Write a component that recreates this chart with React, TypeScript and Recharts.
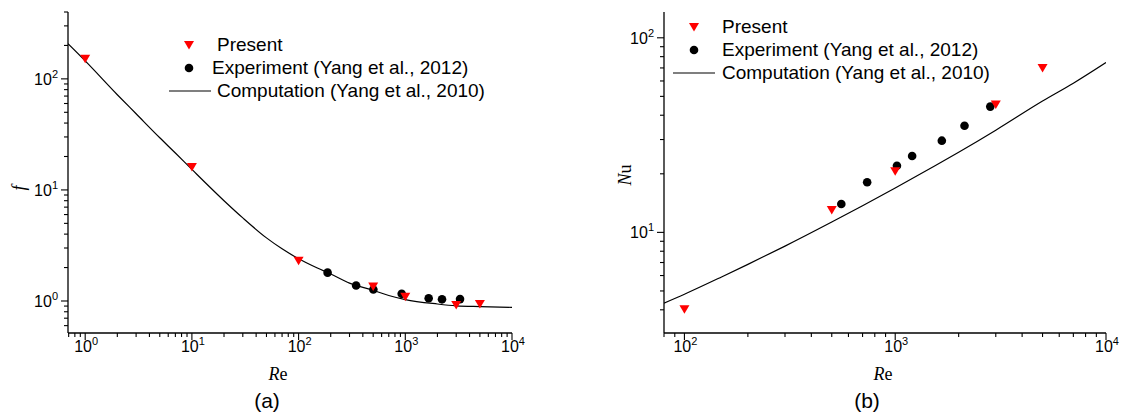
import { ScatterChart, Scatter, XAxis, YAxis, Legend } from 'recharts';

// (a) friction factor f vs Re
const presentA = [
  { re: 1, v: 152 },
  { re: 10, v: 16.1 },
  { re: 100, v: 2.3 },
  { re: 500, v: 1.35 },
  { re: 1000, v: 1.09 },
  { re: 3000, v: 0.92 },
  { re: 5000, v: 0.94 },
];
const experimentA = [
  { re: 187, v: 1.8 },
  { re: 346, v: 1.38 },
  { re: 502, v: 1.27 },
  { re: 925, v: 1.16 },
  { re: 1656, v: 1.06 },
  { re: 2208, v: 1.035 },
  { re: 3258, v: 1.04 },
];
const computationA = [
  { re: 0.69, v: 207 },
  { re: 1, v: 145 },
  { re: 2, v: 72 },
  { re: 3, v: 48.5 },
  { re: 5, v: 29.5 },
  { re: 7, v: 21.5 },
  { re: 10, v: 15.3 },
  { re: 20, v: 8.0 },
  { re: 30, v: 5.6 },
  { re: 50, v: 3.7 },
  { re: 70, v: 2.95 },
  { re: 100, v: 2.4 },
  { re: 150, v: 1.98 },
  { re: 200, v: 1.75 },
  { re: 300, v: 1.45 },
  { re: 500, v: 1.25 },
  { re: 700, v: 1.12 },
  { re: 1000, v: 1.03 },
  { re: 2000, v: 0.94 },
  { re: 3000, v: 0.905 },
  { re: 5000, v: 0.89 },
  { re: 10000, v: 0.877 },
];

// (b) Nusselt number vs Re
const presentB = [
  { re: 100, v: 4.03 },
  { re: 500, v: 13.05 },
  { re: 1000, v: 20.6 },
  { re: 3000, v: 45.4 },
  { re: 5000, v: 70 },
];
const experimentB = [
  { re: 555, v: 14.0 },
  { re: 736, v: 18.1 },
  { re: 1019, v: 22.0 },
  { re: 1203, v: 24.7 },
  { re: 1664, v: 29.6 },
  { re: 2132, v: 35.3 },
  { re: 2825, v: 44.3 },
];
const computationB = [
  { re: 80, v: 4.33 },
  { re: 100, v: 4.81 },
  { re: 150, v: 5.9 },
  { re: 200, v: 6.85 },
  { re: 300, v: 8.5 },
  { re: 500, v: 11.3 },
  { re: 700, v: 13.7 },
  { re: 1000, v: 16.9 },
  { re: 1500, v: 21.6 },
  { re: 2000, v: 25.8 },
  { re: 3000, v: 33.5 },
  { re: 5000, v: 47.3 },
  { re: 7000, v: 58.4 },
  { re: 10000, v: 74.6 },
];

// axes
const domainXA = [0.69, 10000];
const domainYA = [0.515, 400];
const domainXB = [80, 10000];
const domainYB = [3.04, 135.7];

const majorXA = [1, 10, 100, 1000, 10000];
const majorYA = [1, 10, 100];
const majorXB = [100, 1000, 10000];
const majorYB = [10, 100];

const legendLabels = ['Present', 'Experiment (Yang et al., 2012)', 'Computation (Yang et al., 2010)'];

const decades = [1, 2, 3, 4, 5, 6, 7, 8, 9];
function logTicks(lo: number, hi: number) {
  const out: number[] = [];
  for (let e = -1; e <= 4; e++) {
    for (const d of decades) {
      const t = +(d * Math.pow(10, e)).toPrecision(3);
      if (t >= lo && t <= hi) out.push(t);
    }
  }
  return out;
}

const SANS = '"Liberation Sans", Arial, sans-serif';
const SERIF = '"Liberation Serif", "Times New Roman", serif';

function LogTick(props: any) {
  const { x, y, payload, side, majors } = props;
  const v = payload.value;
  const major = majors.includes(v);
  const len = major ? 7 : 4;
  const exp = Math.round(Math.log10(v));
  let line;
  let label = null;
  if (side === 'bottom') {
    line = <line x1={x} y1={y} x2={x} y2={y + len} stroke="#000" strokeWidth={1.1} />;
    if (major)
      label = (
        <text x={x + 1} y={y + 19} textAnchor="middle" fontFamily={SANS} fontSize={16} fill="#000">
          10<tspan dy={-7} fontSize={11}>{exp}</tspan>
        </text>
      );
  } else if (side === 'left') {
    line = <line x1={x} y1={y} x2={x - len} y2={y} stroke="#000" strokeWidth={1.1} />;
    if (major)
      label = (
        <text x={x - 10} y={y + 6} textAnchor="end" fontFamily={SANS} fontSize={16} fill="#000">
          10<tspan dy={-7} fontSize={11}>{exp}</tspan>
        </text>
      );
  } else if (side === 'top') {
    line = <line x1={x} y1={y} x2={x} y2={y + len - 1} stroke="#000" strokeWidth={1.1} />;
  } else {
    line = <line x1={x} y1={y} x2={x - len + 1} y2={y} stroke="#000" strokeWidth={1.1} />;
  }
  return (
    <g>
      {line}
      {label}
    </g>
  );
}

const Triangle = (props: any) => {
  const { cx, cy } = props;
  return <path d={`M${cx - 5},${cy - 4} L${cx + 5},${cy - 4} L${cx},${cy + 4.5} Z`} fill="#ff0000" />;
};
const Dot = (props: any) => <circle cx={props.cx} cy={props.cy} r={4.3} fill="#000" />;
const NoMark = () => <g />;

function LegendBox({ tx, px, cx, lineX }: { tx: number; px: number; cx: number; lineX: [number, number] }) {
  return (
    <svg width={360} height={85} style={{ overflow: 'visible' }}>
      <path d={`M${cx - 5},${11} L${cx + 5},${11} L${cx},${19.5} Z`} fill="#ff0000" />
      <text x={px} y={20.7} fontFamily={SANS} fontSize={19} fill="#000">{legendLabels[0]}</text>
      <circle cx={cx} cy={38} r={4.3} fill="#000" />
      <text x={tx} y={44} fontFamily={SANS} fontSize={19} fill="#000">{legendLabels[1]}</text>
      <line x1={lineX[0]} y1={61} x2={lineX[1]} y2={61} stroke="#000" strokeWidth={1.2} />
      <text x={px} y={67} fontFamily={SANS} fontSize={19} fill="#000">{legendLabels[2]}</text>
    </svg>
  );
}

function Panel(props: {
  width: number;
  yAxisWidth: number;
  right: number;
  domX: number[];
  domY: number[];
  majX: number[];
  majY: number[];
  present: any[];
  experiment: any[];
  computation: any[];
  legend: any;
  legendPos: { left: number; top: number };
}) {
  const ticksX = logTicks(props.domX[0], props.domX[1]);
  const ticksY = logTicks(props.domY[0], props.domY[1]);
  const common = { type: 'number' as const, scale: 'log' as const, allowDataOverflow: true, interval: 0 as const, tickLine: false, tickSize: 0, tickMargin: 0 };
  return (
    <ScatterChart width={props.width} height={417} margin={{ top: 12, right: props.right, bottom: 54, left: 0 }}>
      <XAxis
        {...common}
        xAxisId={0}
        dataKey="re"
        domain={props.domX}
        ticks={ticksX}
        height={30}
        axisLine={{ stroke: '#000', strokeWidth: 1.3 }}
        tick={(p: any) => <LogTick {...p} side="bottom" majors={props.majX} />}
      />
      <XAxis
        {...common}
        xAxisId="top"
        orientation="top"
        dataKey="re"
        domain={props.domX}
        ticks={ticksX}
        height={0}
        axisLine={{ stroke: '#000', strokeWidth: 1.3 }}
        tick={(p: any) => <LogTick {...p} side="top" majors={props.majX} />}
      />
      <YAxis
        {...common}
        yAxisId={0}
        dataKey="v"
        domain={props.domY}
        ticks={ticksY}
        width={props.yAxisWidth}
        axisLine={{ stroke: '#000', strokeWidth: 1.3 }}
        tick={(p: any) => <LogTick {...p} side="left" majors={props.majY} />}
      />
      <YAxis
        {...common}
        yAxisId="right"
        orientation="right"
        dataKey="v"
        domain={props.domY}
        ticks={ticksY}
        width={0}
        axisLine={{ stroke: '#000', strokeWidth: 1.3 }}
        tick={(p: any) => <LogTick {...p} side="right" majors={props.majY} />}
      />
      <Scatter
        data={props.computation}
        line={{ stroke: '#000', strokeWidth: 1.2 }}
        lineJointType="monotoneX"
        shape={NoMark}
        isAnimationActive={false}
      />
      <Scatter data={props.experiment} shape={Dot} isAnimationActive={false} />
      <Scatter data={props.present} shape={Triangle} isAnimationActive={false} />
      <Legend
        layout="vertical"
        align="center"
        verticalAlign="middle"
        content={() => props.legend}
        wrapperStyle={{ position: 'absolute', left: props.legendPos.left, top: props.legendPos.top, width: 360, height: 85 }}
      />
    </ScatterChart>
  );
}

export default function App() {
  return (
    <div style={{ position: 'absolute', left: 0, top: 0, width: 1124, height: 417, background: '#fff' }}>
      <div style={{ position: 'absolute', left: 0, top: 0 }}>
        <Panel
          width={560}
          yAxisWidth={68}
          right={48}
          domX={domainXA}
          domY={domainYA}
          majX={majorXA}
          majY={majorYA}
          present={presentA}
          experiment={experimentA}
          computation={computationA}
          legend={<LegendBox cx={29} px={57} tx={52} lineX={[9, 51]} />}
          legendPos={{ left: 160, top: 30 }}
        />
      </div>
      <div style={{ position: 'absolute', left: 560, top: 0 }}>
        <Panel
          width={564}
          yAxisWidth={104}
          right={18}
          domX={domainXB}
          domY={domainYB}
          majX={majorXB}
          majY={majorYB}
          present={presentB}
          experiment={experimentB}
          computation={computationB}
          legend={<LegendBox cx={34} px={62} tx={62} lineX={[13, 55]} />}
          legendPos={{ left: 100, top: 12 }}
        />
      </div>
      <svg width={1124} height={417} style={{ position: 'absolute', left: 0, top: 0, pointerEvents: 'none' }}>
        <text transform="translate(25,188) rotate(-90)" textAnchor="middle" fontFamily={SERIF} fontStyle="italic" fontSize={18}>
          f
        </text>
        <text x={278} y={380} textAnchor="middle" fontFamily={SERIF} fontSize={18}>
          <tspan fontStyle="italic">R</tspan>e
        </text>
        <text x={267} y={408} textAnchor="middle" fontFamily={SANS} fontSize={21}>
          (a)
        </text>
        <text transform="translate(631,175) rotate(-90)" textAnchor="middle" fontFamily={SERIF} fontSize={18}>
          <tspan fontStyle="italic">N</tspan>u
        </text>
        <text x={883} y={380} textAnchor="middle" fontFamily={SERIF} fontSize={18}>
          <tspan fontStyle="italic">R</tspan>e
        </text>
        <text x={867} y={408} textAnchor="middle" fontFamily={SANS} fontSize={21}>
          (b)
        </text>
      </svg>
    </div>
  );
}
